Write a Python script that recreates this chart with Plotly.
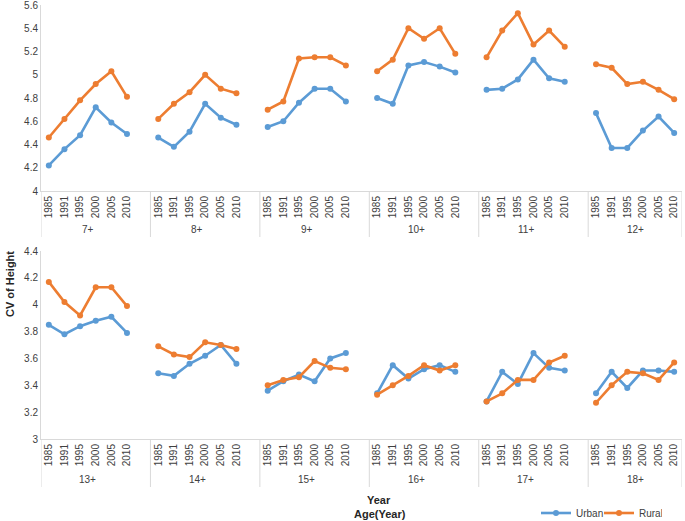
import plotly.graph_objects as go
from plotly.subplots import make_subplots

years = ["1985", "1991", "1995", "2000", "2005", "2010"]
groups_top = ["7+", "8+", "9+", "10+", "11+", "12+"]
groups_bottom = ["13+", "14+", "15+", "16+", "17+", "18+"]

urban_top = [
    [4.22, 4.36, 4.48, 4.72, 4.59, 4.49],
    [4.46, 4.38, 4.51, 4.75, 4.63, 4.57],
    [4.55, 4.60, 4.76, 4.88, 4.88, 4.77],
    [4.80, 4.75, 5.08, 5.11, 5.07, 5.02],
    [4.87, 4.88, 4.96, 5.13, 4.97, 4.94],
    [4.67, 4.37, 4.37, 4.52, 4.64, 4.50],
]
rural_top = [
    [4.46, 4.62, 4.78, 4.92, 5.03, 4.81],
    [4.62, 4.75, 4.85, 5.00, 4.88, 4.84],
    [4.70, 4.77, 5.14, 5.15, 5.15, 5.08],
    [5.03, 5.13, 5.40, 5.31, 5.40, 5.18],
    [5.15, 5.38, 5.53, 5.26, 5.38, 5.24],
    [5.09, 5.06, 4.92, 4.94, 4.87, 4.79],
]
urban_bottom = [
    [3.85, 3.78, 3.84, 3.88, 3.91, 3.79],
    [3.49, 3.47, 3.56, 3.62, 3.70, 3.56],
    [3.36, 3.43, 3.48, 3.43, 3.60, 3.64],
    [3.34, 3.55, 3.45, 3.52, 3.55, 3.50],
    [3.28, 3.50, 3.41, 3.64, 3.53, 3.51],
    [3.34, 3.50, 3.38, 3.51, 3.51, 3.50],
]
rural_bottom = [
    [4.17, 4.02, 3.92, 4.13, 4.13, 3.99],
    [3.69, 3.63, 3.61, 3.72, 3.70, 3.67],
    [3.40, 3.44, 3.46, 3.58, 3.53, 3.52],
    [3.33, 3.40, 3.47, 3.55, 3.51, 3.55],
    [3.28, 3.34, 3.44, 3.44, 3.57, 3.62],
    [3.27, 3.40, 3.50, 3.49, 3.44, 3.57],
]

URBAN = "#5B9BD5"
RURAL = "#ED7D31"
AXIS = "#D9D9D9"
TXT = "#404040"
FONT = "Liberation Sans, Arial, sans-serif"
STEP = 7  # 6 years + 1 blank slot between groups

fig = make_subplots(rows=2, cols=1, vertical_spacing=0.05)

def add_panel(row, groups, urban, rural):
    for g in range(len(groups)):
        xs = [g * STEP + j for j in range(len(years))]
        for name, vals, col in (("Urban", urban, URBAN), ("Rural", rural, RURAL)):
            fig.add_trace(go.Scatter(
                x=xs, y=vals[g], mode="lines+markers", name=name,
                legendgroup=name, showlegend=(row == 1 and g == 0),
                line=dict(color=col, width=2.6),
                marker=dict(color=col, size=6),
            ), row=row, col=1)

add_panel(1, groups_top, urban_top, rural_top)
add_panel(2, groups_bottom, urban_bottom, rural_bottom)

tickvals = [g * STEP + j for g in range(6) for j in range(len(years))]
ticktext = years * 6

H = 516.0
W = 641.0
def py(pix):
    return (521 - pix) / H

def px(pix):
    return (pix - 41) / W

top_dom = [py(191), py(5)]
bot_dom = [py(439), py(251)]

for r, dom, rng in ((1, top_dom, [4, 5.6001]), (2, bot_dom, [3, 4.4001])):
    fig.update_xaxes(range=[-0.5, 40.5], tickvals=tickvals, ticktext=ticktext,
                     tickangle=-90, showgrid=False, zeroline=False,
                     showline=True, linecolor=AXIS, linewidth=1, ticks="",
                     automargin=False, ticklabeloverflow="allow",
                     tickfont=dict(size=10, color=TXT, family=FONT),
                     row=r, col=1)
    fig.update_yaxes(range=rng, domain=dom, dtick=0.2, showgrid=False,
                     zeroline=False, showline=True, linecolor=AXIS,
                     linewidth=1, ticks="", automargin=False,
                     ticklabeloverflow="allow",
                     tickfont=dict(size=10, color=TXT, family=FONT),
                     row=r, col=1)

# group dividers and labels
shapes = []
annotations = []
for xref, groups, y0, y1, ylab in (("x", groups_top, py(237), py(191), py(229)),
                                   ("x2", groups_bottom, py(487), py(439), py(479))):
    for g in range(len(groups) + 1):
        xb = g * STEP - 0.5 if g < len(groups) else 40.5
        shapes.append(dict(type="line", xref=xref, yref="paper", x0=xb, x1=xb,
                           y0=y0, y1=y1, line=dict(color=AXIS, width=1)))
    for g, lab in enumerate(groups):
        annotations.append(dict(text=lab, xref=xref, yref="paper",
                                x=g * STEP + 2.5, y=ylab, showarrow=False,
                                yanchor="middle",
                                font=dict(size=10, color=TXT, family=FONT)))

annotations.append(dict(text="<b>CV of Height</b>", xref="paper", yref="paper",
                        x=px(10), y=py(284), textangle=-90,
                        showarrow=False, xanchor="center", yanchor="middle",
                        font=dict(size=11, color="#262626", family=FONT)))
annotations.append(dict(text="<b>Year</b>", xref="paper", yref="paper",
                        x=px(379), y=py(500), showarrow=False,
                        xanchor="center", yanchor="middle",
                        font=dict(size=11, color="#262626", family=FONT)))
annotations.append(dict(text="<b>Age(Year)</b>", xref="paper", yref="paper",
                        x=px(380), y=py(514), showarrow=False,
                        xanchor="center", yanchor="middle",
                        font=dict(size=11, color="#262626", family=FONT)))

fig.update_layout(
    width=685, height=521,
    margin=dict(l=41, r=3, t=5, b=0, autoexpand=False),
    paper_bgcolor="white", plot_bgcolor="white",
    shapes=shapes, annotations=annotations,
    showlegend=True,
    legend=dict(orientation="h", x=px(536), y=py(513),
                xanchor="left", yanchor="middle", bgcolor="rgba(0,0,0,0)",
                font=dict(size=10, color=TXT, family=FONT),
                entrywidth=18, entrywidthmode="pixels", itemwidth=30,
                tracegroupgap=0),
    font=dict(family=FONT),
)

fig.write_html("out.html",
               config={"displayModeBar": False},
               post_script="document.body.style.margin='0';")
